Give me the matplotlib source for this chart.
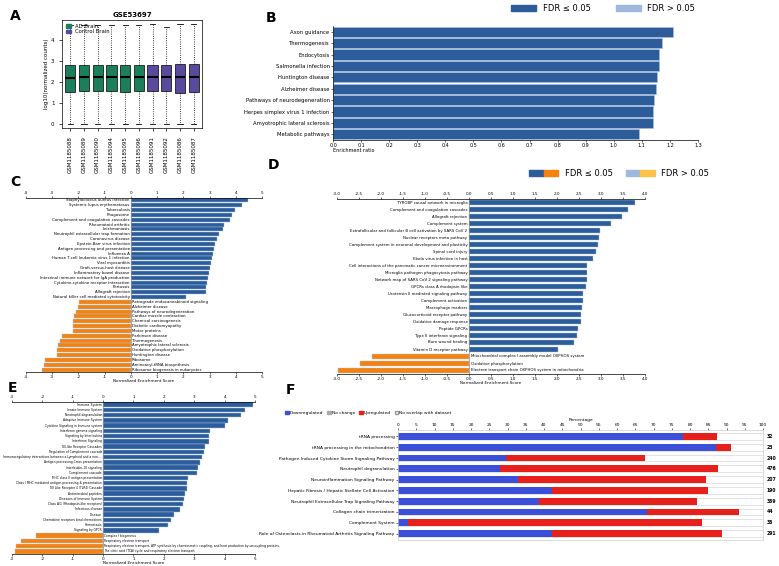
import matplotlib
matplotlib.use("Agg")
import matplotlib.pyplot as plt
import numpy as np
from matplotlib.patches import Patch
from matplotlib.legend_handler import HandlerTuple

W, H = 779, 566
fig = plt.figure(figsize=(W/100, H/100), dpi=100)
fig.patch.set_facecolor("white")

def ax_px(x0, y0, x1, y1):
    return fig.add_axes([x0/W, 1-y1/H, (x1-x0)/W, (y1-y0)/H])

BLUE = "#2d5c9b"; ORANGE = "#f5820f"

# ---------------- A ----------------
a_samples = ["GSM1185088","GSM1185089","GSM1185090","GSM1185094","GSM1185095",
             "GSM1185096","GSM1185091","GSM1185092","GSM1185086","GSM1185087"]
a_group = ["AD","AD","AD","AD","AD","AD","Ctrl","Ctrl","Ctrl","Ctrl"]
a_q1 = [1.52,1.55,1.55,1.55,1.52,1.57,1.57,1.58,1.49,1.53]
a_med = [2.2,2.22,2.23,2.24,2.22,2.24,2.24,2.24,2.22,2.22]
a_q3 = [2.82,2.82,2.82,2.82,2.82,2.82,2.82,2.8,2.84,2.83]
a_max = [4.72,4.72,4.72,4.72,4.72,4.72,4.75,4.62,4.78,4.78]
a_min = [0,0,0,0,0,0,0,0,0,0]
axA = ax_px(62, 20, 202, 128)
stats = [dict(med=m, q1=q1, q3=q3, whislo=lo, whishi=hi, fliers=[]) for m,q1,q3,lo,hi in zip(a_med,a_q1,a_q3,a_min,a_max)]
bp = axA.bxp(stats, positions=range(10), widths=0.75, patch_artist=True,
             medianprops=dict(color="black", lw=1.5), whiskerprops=dict(ls=":", lw=0.6),
             capprops=dict(lw=0.6), boxprops=dict(lw=0.5))
for p, g in zip(bp["boxes"], a_group):
    p.set_facecolor("#1a7f5a" if g=="AD" else "#5a4a9e")
axA.set_xlim(-0.6, 9.6); axA.set_ylim(-0.2, 4.95)
axA.set_yticks([0,1,2,3,4]); axA.tick_params(labelsize=4, length=2, width=0.5)
axA.set_xticks(range(10)); axA.set_xticklabels(a_samples, rotation=90, fontsize=4)
axA.set_ylabel("log10(normalized counts)", fontsize=4, labelpad=1)
axA.set_title("GSE53697", fontsize=5, fontweight="bold", pad=2)
axA.legend(handles=[Patch(color="#1a7f5a", label="AD Brain"), Patch(color="#5a4a9e", label="Control Brain")],
           loc="upper left", fontsize=3.8, frameon=False, handlelength=1, borderpad=0.2, labelspacing=0.1)
for s in axA.spines.values(): s.set_linewidth(0.5)

# ---------------- B ----------------
b_terms = ["Axon guidance","Thermogenesis","Endocytosis","Salmonella infection","Huntington disease",
           "Alzheimer disease","Pathways of neurodegeneration","Herpes simplex virus 1 infection",
           "Amyotrophic lateral sclerosis","Metabolic pathways"]
b_vals = [1.21,1.17,1.16,1.16,1.155,1.15,1.145,1.14,1.14,1.09]
axB = ax_px(333, 26, 698, 140)
axB.barh(range(len(b_vals)), b_vals, color=BLUE, height=0.88, edgecolor="#a8c4e0", lw=0.4)
axB.set_ylim(len(b_vals)-0.5, -0.5); axB.set_xlim(0, 1.3)
axB.set_yticks(range(len(b_vals))); axB.set_yticklabels(b_terms, fontsize=3.8)
axB.set_xticks(np.arange(0, 1.31, 0.1)); axB.set_xticklabels([f"{v:.1f}" for v in np.arange(0,1.31,0.1)], fontsize=3.5)
axB.tick_params(length=1.5, width=0.4, pad=1)
for s in ["top","right"]: axB.spines[s].set_visible(False)
for s in ["left","bottom"]: axB.spines[s].set_linewidth(0.5)
axB.set_xlabel("Enrichment ratio", fontsize=3.5, labelpad=0, loc="left")
axB.legend(handles=[Patch(color=BLUE, label="FDR ≤ 0.05"), Patch(color="#9db8dc", label="FDR > 0.05")],
           loc="lower center", bbox_to_anchor=(0.74, 1.05), ncol=2, frameon=False, fontsize=6, columnspacing=3, handlelength=3)

def nes_panel(box, terms_pos, vals_pos, terms_neg, vals_neg, xlim, xticks, fmt, fs=2.8):
    ax = ax_px(*box)
    terms = terms_pos + terms_neg; vals = vals_pos + vals_neg
    n = len(vals)
    cols = [BLUE]*len(vals_pos) + [ORANGE]*len(vals_neg)
    ax.barh(range(n), vals, color=cols, height=0.85, edgecolor="#a8c4e0", lw=0.3)
    ax.set_ylim(n-0.5, -0.5); ax.set_xlim(*xlim)
    ax.set_yticks([])
    off = 0.005*(xlim[1]-xlim[0])
    for i, (t, v) in enumerate(zip(terms, vals)):
        if v >= 0:
            ax.text(-off, i, t, ha="right", va="center", fontsize=fs)
        else:
            ax.text(off, i, t, ha="left", va="center", fontsize=fs)
    ax.axvline(0, color="#888", lw=0.5)
    for s in ["left","right","bottom"]: ax.spines[s].set_visible(False)
    ax.spines["top"].set_linewidth(0.5)
    ax.xaxis.set_ticks_position("top"); ax.set_xticks(xticks)
    ax.set_xticklabels([fmt.format(v) for v in xticks], fontsize=3)
    ax.tick_params(length=1.5, width=0.4, pad=1)
    sec = ax.secondary_xaxis("bottom")
    sec.set_xticks(xticks); sec.set_xticklabels([fmt.format(v) for v in xticks], fontsize=3)
    sec.tick_params(length=1.5, width=0.4, pad=0.5); sec.spines["bottom"].set_linewidth(0.5)
    sec.set_xlabel("Normalized Enrichment Score", fontsize=3, labelpad=0.3)
    return ax

# ---------------- C ----------------
c_pos_terms = ["Staphylococcus aureus infection","Systemic lupus erythematosus","Tuberculosis","Phagosome",
    "Complement and coagulation cascades","Rheumatoid arthritis","Leishmaniasis","Neutrophil extracellular trap formation",
    "Coronavirus disease","Epstein-Barr virus infection","Antigen processing and presentation","Influenza A",
    "Human T-cell leukemia virus 1 infection","Viral myocarditis","Graft-versus-host disease","Inflammatory bowel disease",
    "Intestinal immune network for IgA production","Cytokine-cytokine receptor interaction","Pertussis",
    "Allograft rejection","Natural killer cell mediated cytotoxicity"]
c_pos_vals = [4.46,4.23,3.96,3.85,3.77,3.54,3.52,3.37,3.27,3.2,3.16,3.13,3.09,3.05,3.0,2.99,2.94,2.91,2.87,2.86,2.09]
c_neg_terms = ["Retrograde endocannabinoid signaling","Alzheimer disease","Pathways of neurodegeneration",
    "Cardiac muscle contraction","Chemical carcinogenesis","Diabetic cardiomyopathy","Motor proteins",
    "Parkinson disease","Thermogenesis","Amyotrophic lateral sclerosis","Oxidative phosphorylation",
    "Huntington disease","Ribosome","Aminoacyl-tRNA biosynthesis","Ribosome biogenesis in eukaryotes"]
c_neg_vals = [-1.96,-2.0,-2.09,-2.18,-2.2,-2.2,-2.2,-2.62,-2.7,-2.78,-2.81,-2.81,-3.29,-3.32,-3.39]
nes_panel((26, 198, 262, 372), c_pos_terms, c_pos_vals, c_neg_terms, c_neg_vals, (-4, 5), list(range(-4, 6)), "{:d}")

# ---------------- D ----------------
d_pos_terms = ["TYROBP causal network in microglia","Complement and coagulation cascades","Allograft rejection",
    "Complement system","Extrafollicular and follicular B cell activation by SARS CoV 2","Nuclear receptors meta pathway",
    "Complement system in neuronal development and plasticity","Spinal cord injury","Ebola virus infection in host",
    "Cell interactions of the pancreatic cancer microenvironment","Microglia pathogen phagocytosis pathway",
    "Network map of SARS CoV 2 signaling pathway","GPCRs class A rhodopsin like","Urotensin II mediated signaling pathway",
    "Complement activation","Macrophage markers","Glucocorticoid receptor pathway","Oxidative damage response",
    "Peptide GPCRs","Type II interferon signaling","Burn wound healing","Vitamin D receptor pathway"]
d_pos_vals = [3.77,3.61,3.48,3.22,2.97,2.95,2.94,2.89,2.81,2.69,2.69,2.69,2.67,2.6,2.58,2.57,2.54,2.54,2.48,2.46,2.39,2.03]
d_neg_terms = ["Mitochondrial complex I assembly model OXPHOS system","Oxidative phosphorylation",
    "Electron transport chain OXPHOS system in mitochondria"]
d_neg_vals = [-2.2,-2.47,-2.98]
dticks = [round(v, 1) for v in np.arange(-3.0, 4.01, 0.5)]
axD = nes_panel((337, 199, 645, 374), d_pos_terms, d_pos_vals, d_neg_terms, d_neg_vals, (-3, 4), dticks, "{:.1f}")
hs = [Patch(color=BLUE), Patch(color=ORANGE), Patch(color="#9db8dc"), Patch(color="#fcc24a")]
axD.legend(handles=[(hs[0], hs[1]), (hs[2], hs[3])], labels=["FDR ≤ 0.05", "FDR > 0.05"],
           handler_map={tuple: HandlerTuple(ndivide=None, pad=0)}, loc="lower left",
           bbox_to_anchor=(0.6, 1.08), ncol=2, frameon=False, fontsize=6, handlelength=3.5, columnspacing=1.5)

# ---------------- E ----------------
e_pos_terms = ["Immune System","Innate Immune System","Neutrophil degranulation","Adaptive Immune System",
    "Cytokine Signaling in Immune system","Interferon gamma signaling","Signaling by Interleukins","Interferon Signaling",
    "Toll-like Receptor Cascades","Regulation of Complement cascade",
    "Immunoregulatory interactions between a Lymphoid and a non-...","Antigen processing-Cross presentation",
    "Interleukin-10 signaling","Complement cascade","MHC class II antigen presentation",
    "Class I MHC mediated antigen processing & presentation","Toll Like Receptor 4 (TLR4) Cascade",
    "Antimicrobial peptides","Diseases of Immune System","Class A/1 (Rhodopsin-like receptors)",
    "Infectious disease","Disease","Chemokine receptors bind chemokines","Hemostasis","Signaling by GPCR"]
e_pos_vals = [4.95,4.68,4.53,4.1,4.02,3.53,3.49,3.47,3.34,3.33,3.27,3.19,3.13,3.09,2.8,2.75,2.75,2.71,2.66,2.63,2.53,2.33,2.24,2.12,1.84]
e_neg_terms = ["Complex I biogenesis","Respiratory electron transport",
    "Respiratory electron transport, ATP synthesis by chemiosmotic coupling, and heat production by uncoupling proteins.",
    "The citric acid (TCA) cycle and respiratory electron transport"]
e_neg_vals = [-2.22,-2.7,-2.86,-2.89]
nes_panel((12, 402, 255, 554), e_pos_terms, e_pos_vals, e_neg_terms, e_neg_vals, (-3, 5), list(range(-3, 6)), "{:d}", fs=2.2)

# ---------------- F ----------------
f_terms = ["tRNA processing","tRNA processing in the mitochondrion","Pathogen Induced Cytokine Storm Signaling Pathway",
    "Neutrophil degranulation","Neuroinflammation Signaling Pathway","Hepatic Fibrosis / Hepatic Stellate Cell Activation",
    "Neutrophil Extracellular Trap Signaling Pathway","Collagen chain trimerization","Complement System",
    "Role of Osteoclasts in Rheumatoid Arthritis Signaling Pathway"]
f_down = [78.1,87.0,29.6,28.0,33.0,42.1,38.6,68.3,2.7,42.3]
f_up_end = [87.5,91.3,67.6,87.7,84.5,85.0,82.0,93.3,83.4,88.8]
f_counts = [32,23,240,476,207,190,369,44,36,291]
axF = ax_px(398, 430, 763, 540)
y = np.arange(len(f_terms))
f_up = [u-d for u, d in zip(f_up_end, f_down)]
axF.barh(y, [100]*len(y), color="white", edgecolor="#cccccc", lw=0.4, height=0.62)
axF.barh(y, f_down, color="#3b4fd8", height=0.62)
axF.barh(y, f_up, left=f_down, color="#e8201c", height=0.62)
axF.set_xlim(0, 100); axF.set_ylim(len(y)-0.4, -0.6)
axF.set_yticks(y); axF.set_yticklabels(f_terms, fontsize=3.2)
axF.xaxis.set_ticks_position("top"); axF.xaxis.set_label_position("top")
axF.set_xticks(range(0, 101, 5)); axF.set_xticklabels([str(v) for v in range(0, 101, 5)], fontsize=3.2)
axF.set_xlabel("Percentage", fontsize=3.2, labelpad=1)
axF.tick_params(length=1.5, width=0.4, pad=1)
for s in axF.spines.values(): s.set_color("#cccccc"); s.set_linewidth(0.5)
for i, c in enumerate(f_counts):
    axF.text(101, i, str(c), fontsize=3.3, fontweight="bold", va="center", ha="left")
axF.legend(handles=[Patch(color="#3b4fd8", label="Downregulated"), Patch(color="#aaaaaa", label="No change"),
                    Patch(color="#e8201c", label="Upregulated"), Patch(facecolor="white", edgecolor="#999", label="No overlap with dataset")],
           loc="lower left", bbox_to_anchor=(-0.32, 1.1), ncol=4, frameon=False, fontsize=3.2,
           handlelength=0.8, handleheight=0.8, columnspacing=0.8, handletextpad=0.3)

# Panel letters
for lab, x, yy in [("A", 10, 16), ("B", 266, 18), ("C", 10, 182), ("D", 268, 165), ("E", 8, 388), ("F", 286, 390)]:
    fig.text(x/W, 1-yy/H, lab, fontsize=10, fontweight="bold", va="center")

fig.savefig("out.png", dpi=100)
